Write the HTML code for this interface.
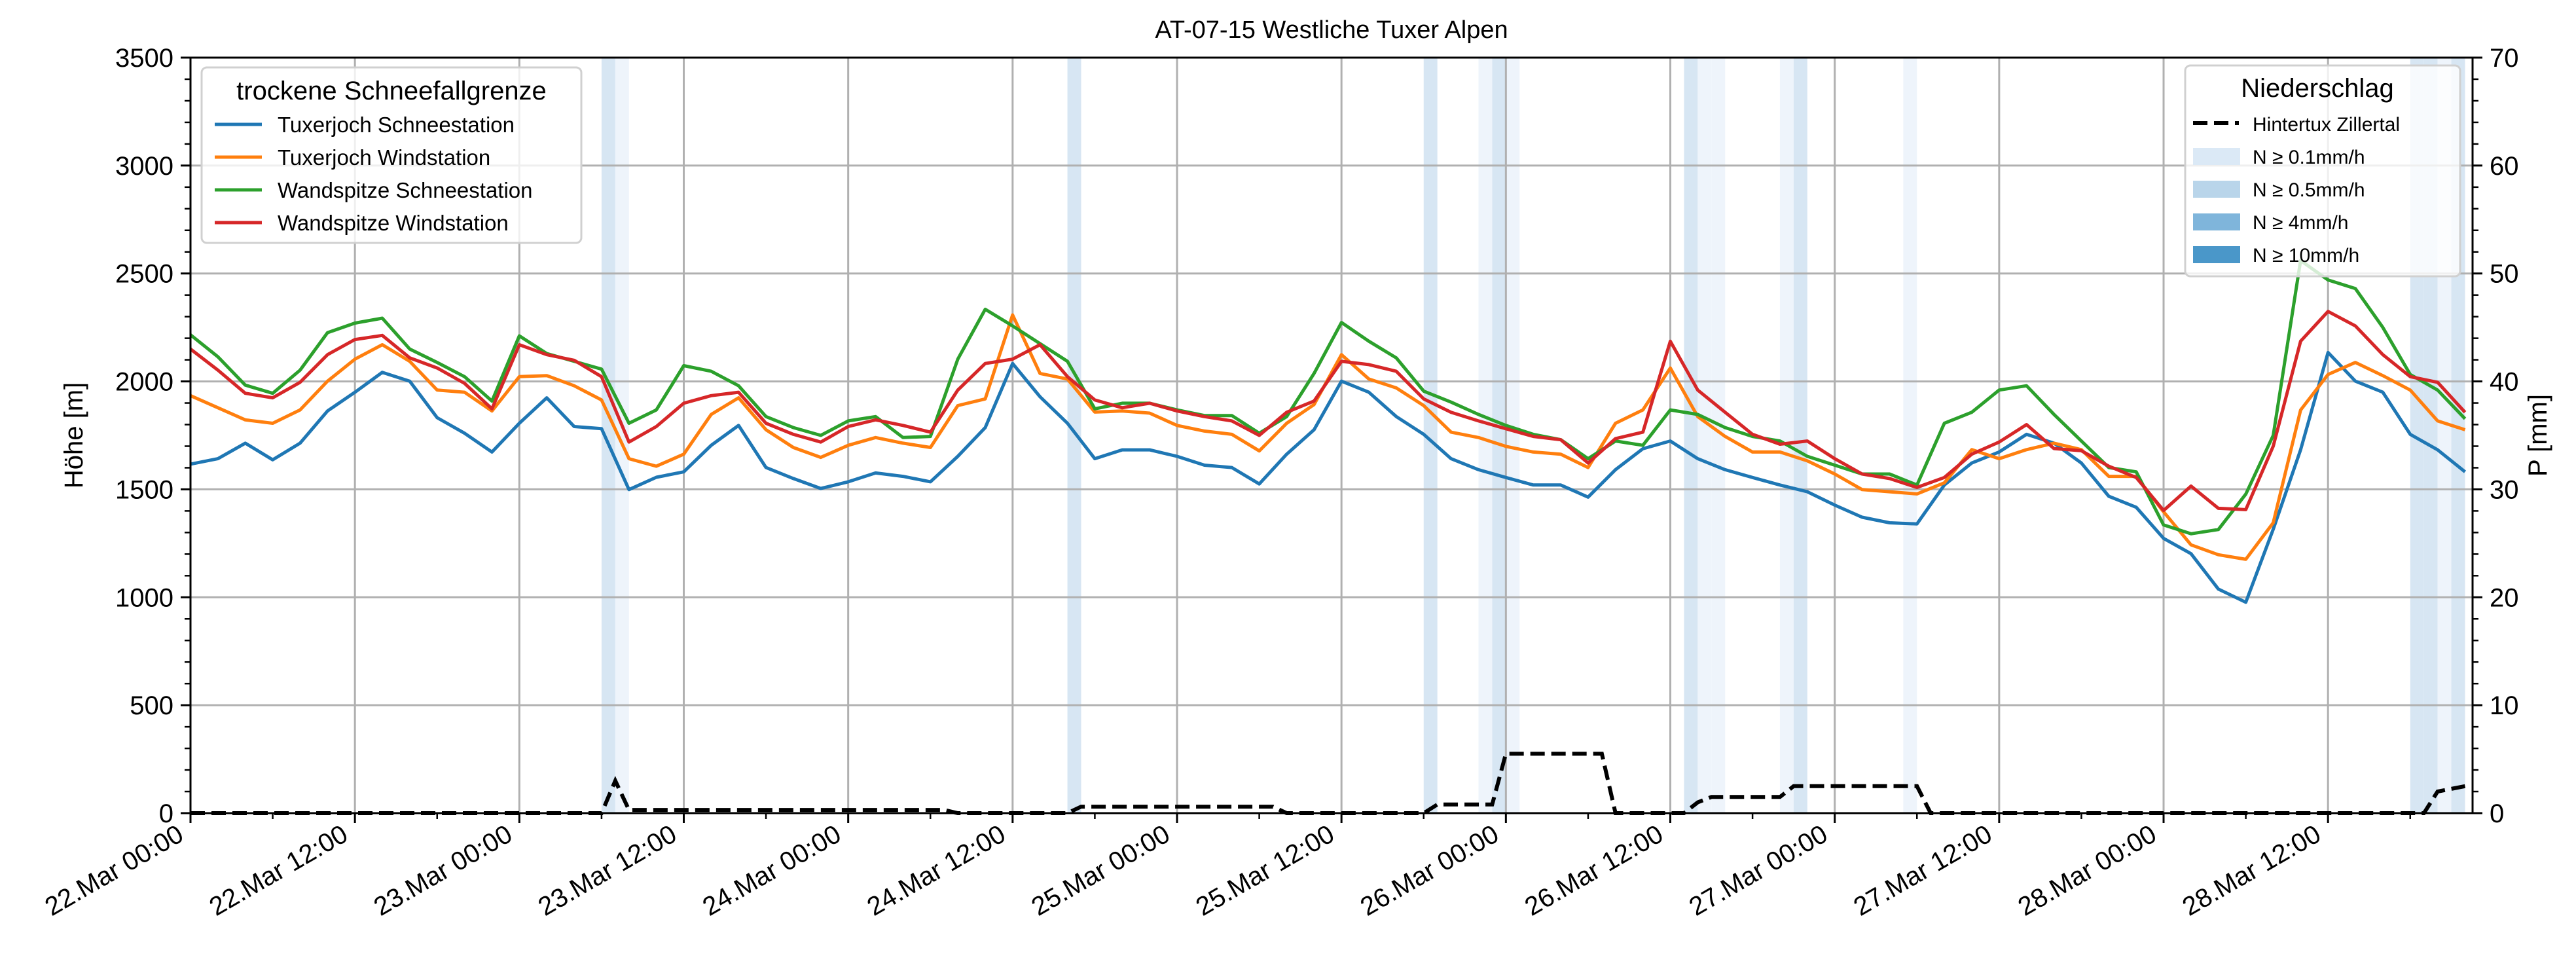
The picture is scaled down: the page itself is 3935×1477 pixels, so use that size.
<!DOCTYPE html>
<html><head><meta charset="utf-8"><style>
html,body{margin:0;padding:0;background:#fff}
svg{display:block;font-family:"Liberation Sans","DejaVu Sans",sans-serif}
</style></head><body>
<svg id="chart" width="3935" height="1477" viewBox="0 0 3935 1477" xmlns="http://www.w3.org/2000/svg">
<rect x="0" y="0" width="3935" height="1477" fill="#fff"/>
<g id="bands"></g>
<g id="grid"></g>
<g id="series"></g>
<g id="axes"></g>
<text x="2034" y="58" font-size="38" text-anchor="middle">AT-07-15 Westliche Tuxer Alpen</text>
<text transform="translate(126,665) rotate(-90)" font-size="40" text-anchor="middle">Höhe [m]</text>
<text transform="translate(3890,665) rotate(-90)" font-size="40" text-anchor="middle">P [mm]</text>
<g>
<rect x="308" y="103" width="580" height="268" rx="8" fill="#fff" fill-opacity="0.8" stroke="#d0d0d0" stroke-width="3"/>
<text x="598" y="152" font-size="40" text-anchor="middle">trockene Schneefallgrenze</text>
<line x1="328" y1="190" x2="400" y2="190" stroke="#1f77b4" stroke-width="5"/>
<text x="424" y="202" font-size="33">Tuxerjoch Schneestation</text>
<line x1="328" y1="240" x2="400" y2="240" stroke="#ff7f0e" stroke-width="5"/>
<text x="424" y="252" font-size="33">Tuxerjoch Windstation</text>
<line x1="328" y1="290" x2="400" y2="290" stroke="#2ca02c" stroke-width="5"/>
<text x="424" y="302" font-size="33">Wandspitze Schneestation</text>
<line x1="328" y1="340" x2="400" y2="340" stroke="#d62728" stroke-width="5"/>
<text x="424" y="352" font-size="33">Wandspitze Windstation</text>
</g>
<g>
<rect x="3338" y="100" width="420" height="322" rx="8" fill="#fff" fill-opacity="0.8" stroke="#d0d0d0" stroke-width="3"/>
<text x="3540" y="148" font-size="40" text-anchor="middle">Niederschlag</text>
<line x1="3350" y1="188" x2="3420" y2="188" stroke="#000" stroke-width="6" stroke-dasharray="22,10"/>
<text x="3441" y="200" font-size="30">Hintertux Zillertal</text>
<rect x="3350" y="226" width="72" height="26" fill="#dbe9f6"/>
<text x="3441" y="250" font-size="30">N ≥ 0.1mm/h</text>
<rect x="3350" y="276" width="72" height="26" fill="#b9d5ea"/>
<text x="3441" y="300" font-size="30">N ≥ 0.5mm/h</text>
<rect x="3350" y="326" width="72" height="26" fill="#7fb5db"/>
<text x="3441" y="350" font-size="30">N ≥ 4mm/h</text>
<rect x="3350" y="376" width="72" height="26" fill="#4a97c9"/>
<text x="3441" y="400" font-size="30">N ≥ 10mm/h</text>
</g>
</svg>
<script>
// ---- data ----
const sampleStepHours = 2;
const blueVals = [1617,1642,1714,1637,1714,1863,1950,2042,2001,1832,1760,1673,1806,1924,1791,1781,1499,1556,1581,1704,1796,1601,
1550,1504,1535,1576,1560,1535,1653,1786,2083,1929,1806,1642,1683,1683,1653,1612,1601,1525,1663,1776,
2001,1950,1837,1755,1642,1591,1555,1520,1520,1464,1591,1688,1724,1642,1591,1555,1520,1489,1427,1371,1345,
1340,1520,1622,1673,1755,1714,1622,1468,1417,1273,1202,1038,977,1315,1683,2134,2001,1950,1755,1683,1581];
const orangeVals = [1934,1878,1822,1806,1868,2001,2103,2170,2093,1960,1950,1863,2022,2027,1980,1914,1642,1607,1663,1847,1924,1776,
1694,1648,1704,1740,1714,1694,1888,1919,2308,2037,2011,1858,1863,1853,1796,1770,1755,1678,1806,1893,
2124,2011,1970,1888,1765,1740,1699,1673,1663,1601,1806,1868,2062,1837,1745,1673,1673,1632,1571,1499,1489,
1479,1530,1684,1642,1684,1714,1684,1560,1560,1396,1243,1197,1176,1345,1867,2032,2088,2027,1960,1817,1776];
const greenVals = [2216,2114,1983,1945,2052,2226,2270,2293,2150,2088,2022,1909,2211,2129,2093,2057,1806,1868,2073,2047,1980,1837,
1786,1750,1817,1837,1740,1745,2103,2334,2257,2175,2093,1873,1899,1899,1868,1842,1842,1760,1837,2037,
2273,2186,2109,1955,1904,1847,1796,1755,1730,1642,1724,1704,1868,1847,1786,1745,1724,1653,1612,1571,1571,
1520,1806,1857,1960,1980,1847,1724,1601,1581,1335,1294,1314,1478,1750,2560,2470,2430,2250,2032,1960,1827];
const redVals = [2150,2052,1945,1924,1996,2124,2194,2213,2109,2062,1991,1873,2170,2124,2098,2022,1719,1791,1899,1934,1950,1806,
1755,1719,1791,1822,1796,1765,1960,2083,2103,2170,2022,1914,1878,1899,1863,1837,1817,1750,1857,1909,
2093,2078,2047,1919,1857,1817,1781,1745,1730,1622,1735,1765,2186,1960,1857,1755,1709,1724,1642,1571,1550,
1509,1555,1663,1719,1800,1689,1679,1607,1555,1402,1515,1412,1406,1700,2186,2324,2257,2124,2022,1996,1857];
const precipHours = [0,30,31,32,55,56,64,65,79,80,90,91,95,96,103,104,109,110,111,116,117,126,127,163,164,166];
const precipVals  = [0,0,3,0.3,0.3,0,0,0.6,0.6,0,0,0.8,0.8,5.5,5.5,0,0,1,1.5,1.5,2.5,2.5,0,0,2,2.5];
const bandHours  = [30,31,64,90,94,95,96,109,110,111,116,117,125,162,163,164,165];
const bandLevels = [2,1,2,2,1,2,1,2,1,1,1,2,1,2,2,1,2];
const xTickLabels = ["22.Mar 00:00","22.Mar 12:00","23.Mar 00:00","23.Mar 12:00","24.Mar 00:00","24.Mar 12:00","25.Mar 00:00","25.Mar 12:00","26.Mar 00:00","26.Mar 12:00","27.Mar 00:00","27.Mar 12:00","28.Mar 00:00","28.Mar 12:00"];
const yTicksLeft = [0,500,1000,1500,2000,2500,3000,3500];
const yTicksRight = [0,10,20,30,40,50,60,70];

// ---- axes ----
const L=291,R=3777,T=88,B=1242, HMAX=166.55;
const xs=h=>L+(R-L)*h/HMAX;
const yl=v=>B-(B-T)*v/3500;
const yr=p=>B-(B-T)*p/70;
const NS="http://www.w3.org/2000/svg";
function mk(tag,attrs,parent){const e=document.createElementNS(NS,tag);for(const k in attrs)e.setAttribute(k,attrs[k]);parent.appendChild(e);return e;}
const gB=document.getElementById('bands'),gG=document.getElementById('grid'),gS=document.getElementById('series'),gA=document.getElementById('axes');

bandHours.forEach((h,i)=>{
  const r=mk('rect',{x:xs(h),y:T,width:xs(h+1)-xs(h),height:B-T,fill:bandLevels[i]>=2?'#d7e6f3':'#eef4fb'},gB);
  
  
});

xTickLabels.forEach((lab,i)=>{
  const x=xs(i*12);
  if(i>0){const g=mk('line',{x1:x,y1:T,x2:x,y2:B,stroke:'#b0b0b0','stroke-width':3},gG);
  
  }
  const t=mk('line',{x1:x,y1:B,x2:x,y2:B+15,stroke:'#000','stroke-width':3},gA);
  
  
  const tx=mk('text',{transform:`translate(${x-8},${B+40}) rotate(-30)`,'font-size':40,'text-anchor':'end'},gA);
  tx.textContent=lab;
  
  
  const mx=xs(i*12+6);
  if(mx<R){const m=mk('line',{x1:mx,y1:B,x2:mx,y2:B+9,stroke:'#000','stroke-width':2.5},gA);
  
  }
});

yTicksLeft.forEach(v=>{
  const y=yl(v);
  if(v>0&&v<3500){const g=mk('line',{x1:L,y1:y,x2:R,y2:y,stroke:'#b0b0b0','stroke-width':3},gG);
  
  }
  const t=mk('line',{x1:L-15,y1:y,x2:L,y2:y,stroke:'#000','stroke-width':3},gA);
  
  
  const tx=mk('text',{x:L-26,y:y+14,'font-size':40,'text-anchor':'end'},gA);
  tx.textContent=String(v);
  
  
});
for(let v=100;v<3500;v+=100){if(v%500===0)continue;const m=mk('line',{x1:L-9,y1:yl(v),x2:L,y2:yl(v),stroke:'#000','stroke-width':2.5},gA);
  
  }
yTicksRight.forEach(p=>{
  const y=yr(p);
  const t=mk('line',{x1:R,y1:y,x2:R+15,y2:y,stroke:'#000','stroke-width':3},gA);
  
  
  const tx=mk('text',{x:R+26,y:y+14,'font-size':40},gA);
  tx.textContent=String(p);
  
  
});
for(let p=2;p<70;p+=2){if(p%10===0)continue;const m=mk('line',{x1:R,y1:yr(p),x2:R+9,y2:yr(p),stroke:'#000','stroke-width':2.5},gA);
  
  }

const seriesDefs=[[blueVals,'#1f77b4','line-tuxerjoch-schnee'],[orangeVals,'#ff7f0e','line-tuxerjoch-wind'],[greenVals,'#2ca02c','line-wandspitze-schnee'],[redVals,'#d62728','line-wandspitze-wind']];
seriesDefs.forEach(([vals,col,name])=>{
  const d=vals.map((v,i)=>(i?'L':'M')+xs(i*sampleStepHours).toFixed(1)+','+yl(v).toFixed(1)).join(' ');
  const p=mk('path',{d:d,fill:'none',stroke:col,'stroke-width':5,'stroke-linejoin':'round'},gS);
  
  
});
const pd=precipHours.map((h,i)=>(i?'L':'M')+xs(h).toFixed(1)+','+yr(precipVals[i]).toFixed(1)).join(' ');
const pl=mk('path',{d:pd,fill:'none',stroke:'#000','stroke-width':6,'stroke-dasharray':'22,10'},gS);



const frame=mk('rect',{x:L,y:T,width:R-L,height:B-T,fill:'none',stroke:'#000','stroke-width':3},gA);


</script>
</body></html>
